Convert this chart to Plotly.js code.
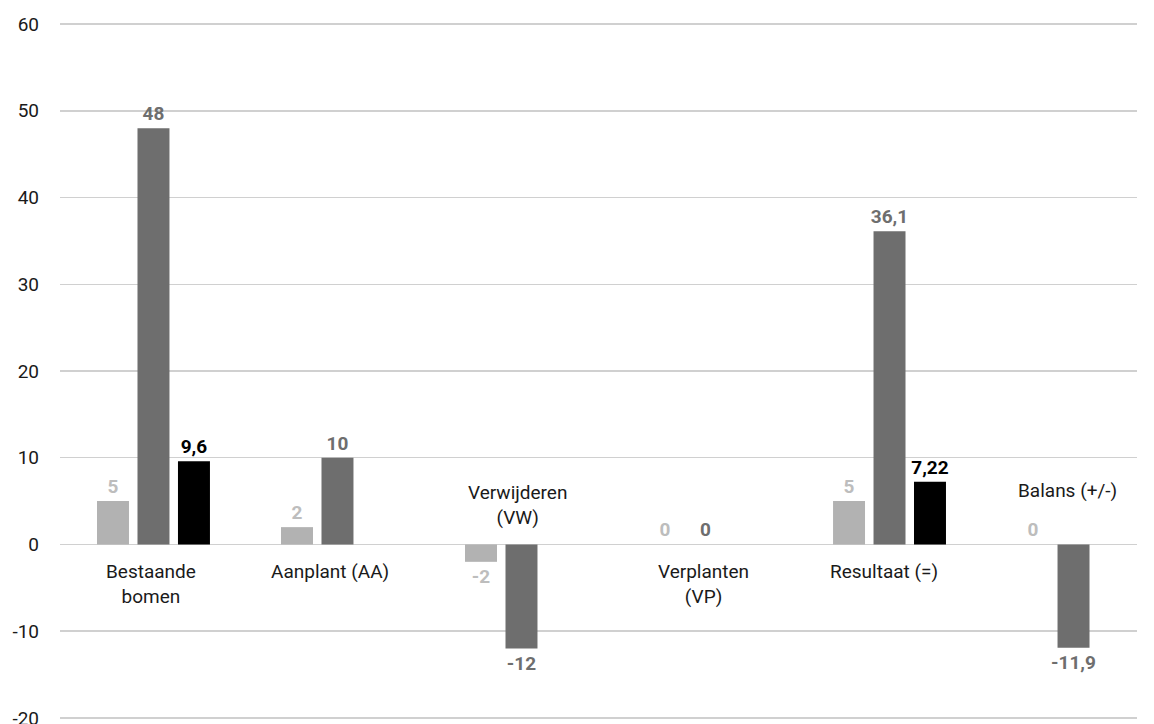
<!DOCTYPE html>
<html>
<head>
<meta charset="utf-8">
<script src="https://cdn.plot.ly/plotly-3.0.1.min.js"></script>
<style>
html,body{margin:0;padding:0;background:#fff;}
#chart{width:1154px;height:724px;}
</style>
</head>
<body>
<div id="chart"></div>
<script>
// ---- data ----
const categories = ["Bestaande bomen", "Aanplant (AA)", "Verwijderen (VW)", "Verplanten (VP)", "Resultaat (=)", "Balans (+/-)"];
const categoryLabels = ["Bestaande<br>bomen", "Aanplant (AA)", "Verwijderen<br>(VW)", "Verplanten<br>(VP)", "Resultaat (=)", "Balans (+/-)"];
const seriesLight = [5, 2, -2, 0, 5, 0];
const seriesDark = [48, 10, -12, 0, 36.1, -11.9];
const seriesBlack = [9.6, null, null, null, 7.22, null];
const yTicks = [-20, -10, 0, 10, 20, 30, 40, 50, 60];

// ---- helpers ----
const fmt = v => (v === null ? "" : String(v).replace(".", ","));
const FONT = "Roboto, 'DejaVu Sans', sans-serif";

function barTrace(name, values, barColor, textColor) {
  return {
    type: "bar",
    name: name,
    x: categories,
    y: values,
    text: values.map(fmt),
    textposition: "outside",
    cliponaxis: false,
    constraintext: "none",
    textfont: {family: FONT, size: 19, color: textColor, weight: "bold"},
    outsidetextfont: {family: FONT, size: 19, color: textColor, weight: "bold"},
    marker: {color: barColor, line: {width: 0}},
    hoverinfo: "skip"
  };
}

const data = [
  barTrace("Serie 1", seriesLight, "#b2b2b2", "#bdbdbd"),
  barTrace("Serie 2", seriesDark, "#6e6e6e", "#6e6e6e"),
  barTrace("Serie 3", seriesBlack, "#000000", "#000000")
];

// label placement (pixel shifts relative to the zero line / category centre)
const labelYShift = [-14, -14, 65, -14, -14, 67];
const labelXShift = [-2, -7, -4, -2, -6, -6];

const annotations = categories.map((c, i) => ({
  x: c,
  y: 0,
  xref: "x",
  yref: "y",
  text: categoryLabels[i],
  showarrow: false,
  yanchor: "top",
  yshift: labelYShift[i],
  xshift: labelXShift[i],
  font: {family: FONT, size: 19, color: "#1a1a1a"},
  align: "center"
}));

const layout = {
  width: 1154,
  height: 724,
  margin: {l: 60, r: 17, t: 23, b: 5, pad: 0},
  paper_bgcolor: "#ffffff",
  plot_bgcolor: "#ffffff",
  showlegend: false,
  barmode: "group",
  bargap: 0.34,
  bargroupgap: 0.21,
  font: {family: FONT, size: 19, color: "#1a1a1a"},
  xaxis: {
    type: "category",
    range: [-0.508, 5.345],
    showticklabels: false,
    showgrid: false,
    zeroline: false,
    showline: false,
    ticks: ""
  },
  yaxis: {
    range: [-20.12, 60.12],
    tickvals: yTicks,
    ticktext: yTicks.map(String),
    showgrid: true,
    gridcolor: "#d0d0d0",
    gridwidth: 1.5,
    zeroline: true,
    zerolinecolor: "#d0d0d0",
    zerolinewidth: 1.5,
    showline: false,
    ticks: "",
    ticklabelstandoff: 20,
    ticklabeloverflow: "allow",
    tickfont: {family: FONT, size: 19, color: "#1a1a1a"}
  },
  annotations: annotations
};

Plotly.newPlot("chart", data, layout, {staticPlot: true, displayModeBar: false});
</script>
</body>
</html>
